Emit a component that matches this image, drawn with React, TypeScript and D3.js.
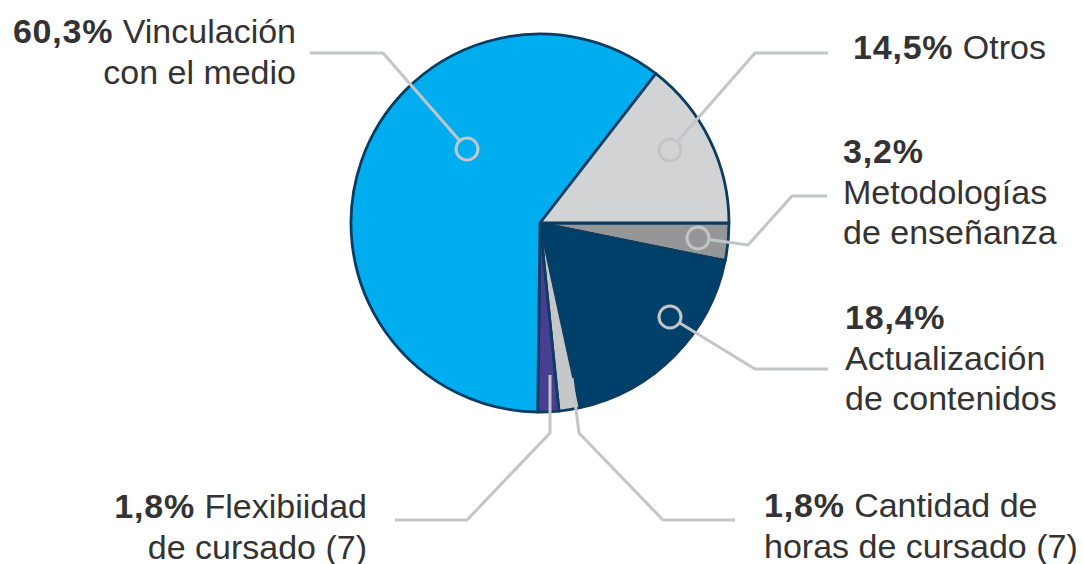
import React from "react";
import * as d3 from "d3";

// Data (clockwise from 3 o'clock)
const categories = [
  "Metodologías de enseñanza",
  "Actualización de contenidos",
  "Cantidad de horas de cursado (7)",
  "Flexibiidad de cursado (7)",
  "Vinculación con el medio",
  "Otros",
];
const values = [3.2, 18.4, 1.8, 1.8, 60.3, 14.5];
const percentLabels = ["3,2%", "18,4%", "1,8%", "1,8%", "60,3%", "14,5%"];
const colors = ["#959698", "#00416B", "#C6C7C9", "#483E92", "#00AEEF", "#D1D3D4"];

// Label text lines: [bold part, regular part]
const labelLines: [string, string][][] = [
  [[percentLabels[0], ""], ["", "Metodologías"], ["", "de enseñanza"]],
  [[percentLabels[1], ""], ["", "Actualización"], ["", "de contenidos"]],
  [[percentLabels[2], " Cantidad de"], ["", "horas de cursado (7)"]],
  [[percentLabels[3], " Flexibiidad"], ["", "de cursado (7)"]],
  [[percentLabels[4], " Vinculación"], ["", "con el medio"]],
  [[percentLabels[5], " Otros"]],
];

// Layout of annotations (not data)
const labelLayout = [
  { x: 843, y: 163, anchor: "start", circle: [698, 238], path: [[748, 245], [792, 196], [827, 196]] },
  { x: 845, y: 329, anchor: "start", circle: [670, 317], path: [[755, 369], [828, 369]] },
  { x: 764, y: 517, anchor: "start", circle: null, start: [572, 378], path: [[579, 433], [663, 520], [735, 520]] },
  { x: 367, y: 518, anchor: "end", circle: null, start: [550, 375], path: [[550, 433], [467, 520], [395, 520]] },
  { x: 296, y: 43, anchor: "end", circle: [467, 149], path: [[383, 53], [310, 53]] },
  { x: 853, y: 59, anchor: "start", circle: [670, 150], path: [[755, 53], [828, 53]] },
];

const W = 1083;
const H = 564;
const cx = 540;
const cy = 223;
const R = 189;
const lineGap = 40.5;
const leaderColor = "#C4C5C7";
const circleR = 11;

export default function App() {
  const pie = d3
    .pie<number>()
    .sort(null)
    .value((d) => d)
    .startAngle(Math.PI / 2)
    .endAngle(Math.PI / 2 + 2 * Math.PI);
  const arcs = pie(values);
  const arcGen = d3.arc<d3.PieArcDatum<number>>().innerRadius(0).outerRadius(R);
  const line = d3.line();

  return (
    <svg
      width={W}
      height={H}
      style={{ position: "absolute", left: 0, top: 0, background: "#fff" }}
      fontFamily="'Liberation Sans', Arial, Helvetica, sans-serif"
    >
      <g transform={`translate(${cx},${cy})`}>
        {arcs.map((a, i) => (
          <path
            key={categories[i]}
            d={arcGen(a) || ""}
            fill={colors[i]}
            stroke="#0B3C62"
            strokeWidth={2.8}
            strokeLinejoin="round"
          />
        ))}
      </g>
      {labelLayout.map((L, i) => {
        let pts: [number, number][];
        if (L.circle) {
          const [ccx, ccy] = L.circle as number[];
          const [nx, ny] = L.path[0];
          const dx = nx - ccx;
          const dy = ny - ccy;
          const d = Math.hypot(dx, dy);
          pts = [[ccx + (dx / d) * circleR, ccy + (dy / d) * circleR], ...(L.path as [number, number][])];
        } else {
          pts = [L.start as [number, number], ...(L.path as [number, number][])];
        }
        return (
          <g key={"lead" + i}>
            <path d={line(pts) || ""} fill="none" stroke={leaderColor} strokeWidth={3} strokeLinejoin="round" />
            {L.circle && (
              <circle
                cx={(L.circle as number[])[0]}
                cy={(L.circle as number[])[1]}
                r={circleR}
                fill="none"
                stroke={leaderColor}
                strokeWidth={3}
              />
            )}
          </g>
        );
      })}
      {labelLayout.map((L, i) => (
        <text
          key={"lab" + i}
          x={L.x}
          y={L.y}
          textAnchor={L.anchor}
          fontSize={34}
          fill="#333333"
        >
          {labelLines[i].map((ln, j) => (
            <tspan key={j} x={L.x} y={L.y + j * lineGap}>
              {ln[0] && (
                <tspan fontWeight="bold" letterSpacing={0.8}>
                  {ln[0]}
                </tspan>
              )}
              {ln[1] && <tspan>{ln[1]}</tspan>}
            </tspan>
          ))}
        </text>
      ))}
    </svg>
  );
}
